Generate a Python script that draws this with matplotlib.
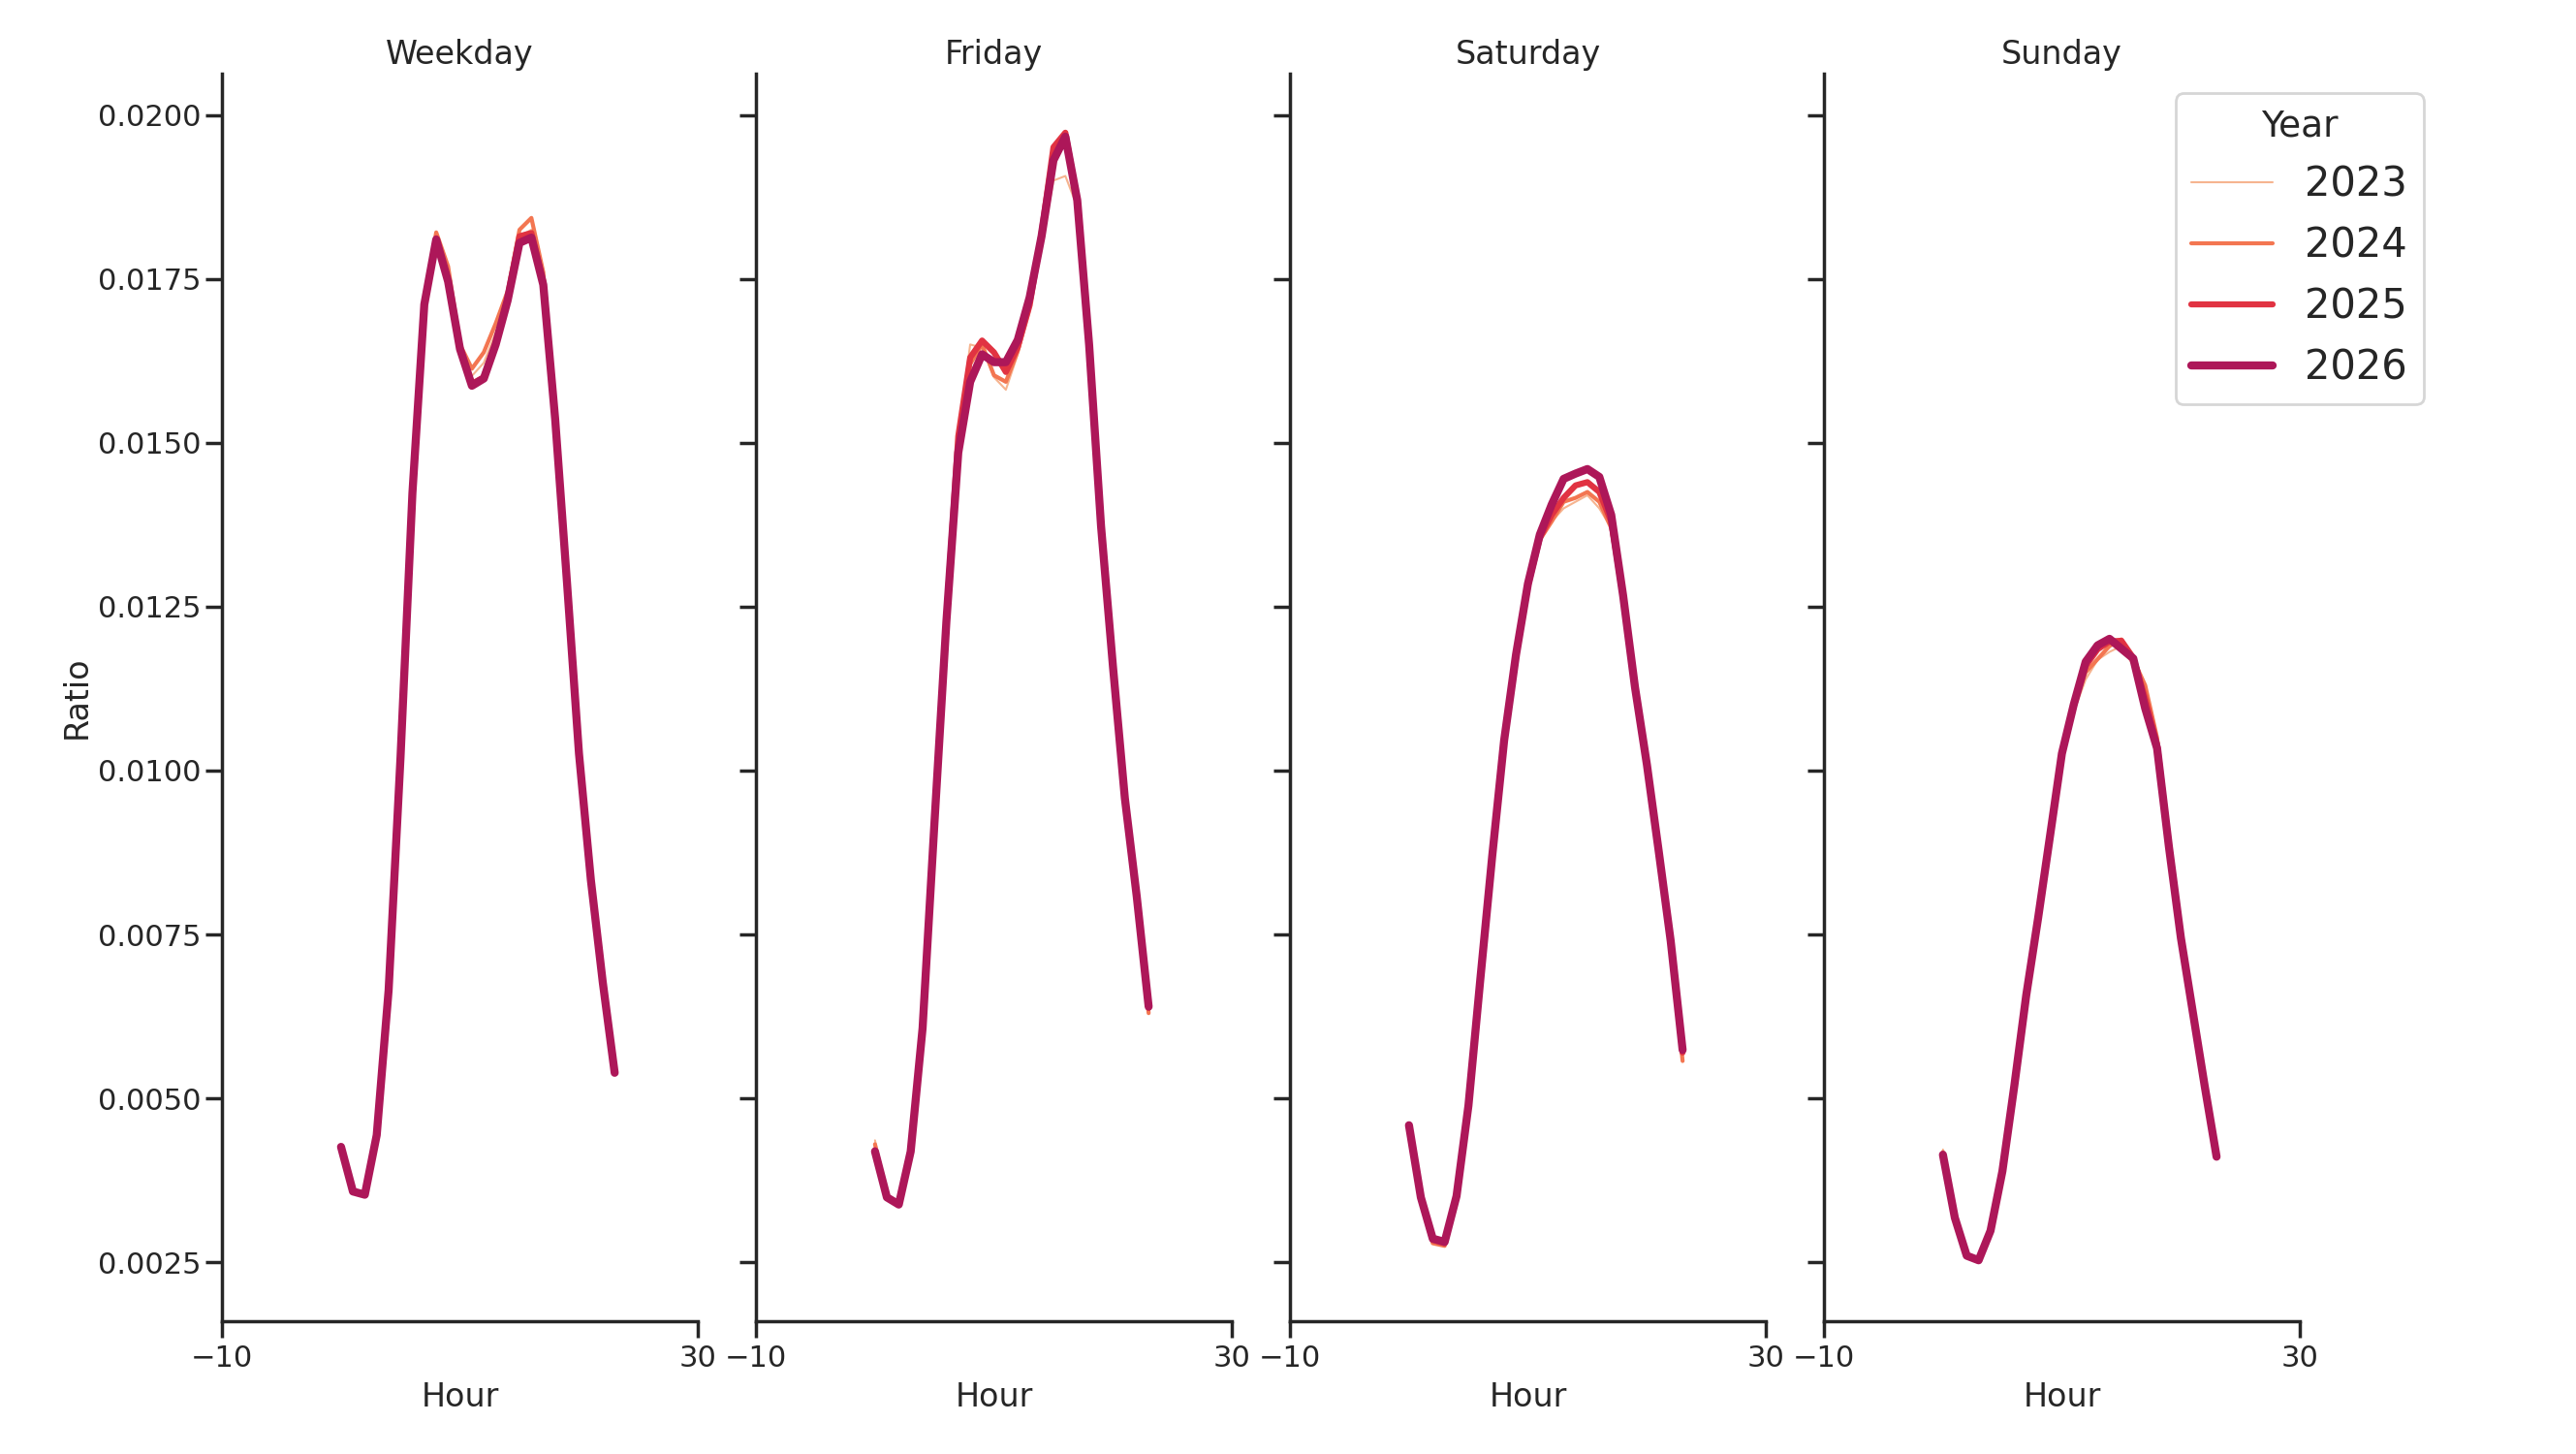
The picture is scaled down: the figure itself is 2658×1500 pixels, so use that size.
import matplotlib
matplotlib.use("Agg")
import matplotlib.pyplot as plt
import seaborn as sns
from matplotlib.ticker import FormatStrFormatter

sns.set_theme(style="ticks", context="poster")
plt.rcParams['font.family'] = ['DejaVu Sans']

# Data: share of the day's trips per hour
hours = list(range(24))
day_types = ['Weekday', 'Friday', 'Saturday', 'Sunday']
years = [2023, 2024, 2025, 2026]
year_colors = ['#f6b48f', '#f37651', '#e13342', '#ad1759']
year_widths = [1.5, 3.0, 4.5, 6.0]

weekday_2023 = [0.00428, 0.00360, 0.00354, 0.00446, 0.00668, 0.01025, 0.01428, 0.01718, 0.01822, 0.01760,
                0.01648, 0.01602, 0.01622, 0.01668, 0.01725, 0.01815, 0.01825, 0.01750, 0.01540, 0.01288,
                0.01028, 0.00835, 0.00678, 0.00540]
weekday_2024 = [0.00427, 0.00359, 0.00354, 0.00445, 0.00667, 0.01023, 0.01426, 0.01716, 0.01821, 0.01769,
                0.01650, 0.01613, 0.01638, 0.01682, 0.01731, 0.01825, 0.01843, 0.01760, 0.01542, 0.01289,
                0.01028, 0.00834, 0.00678, 0.00540]
weekday_2025 = [0.00426, 0.00358, 0.00353, 0.00444, 0.00665, 0.01021, 0.01424, 0.01712, 0.01812, 0.01748,
                0.01645, 0.01590, 0.01600, 0.01652, 0.01720, 0.01815, 0.01820, 0.01745, 0.01538, 0.01286,
                0.01027, 0.00834, 0.00677, 0.00539]
weekday_2026 = [0.00426, 0.00358, 0.00353, 0.00444, 0.00665, 0.01020, 0.01423, 0.01711, 0.01810, 0.01746,
                0.01643, 0.01587, 0.01598, 0.01650, 0.01717, 0.01805, 0.01813, 0.01741, 0.01536, 0.01285,
                0.01026, 0.00833, 0.00677, 0.00539]

friday_2023 = [0.00436, 0.00352, 0.00340, 0.00421, 0.00610, 0.00925, 0.01235, 0.01510, 0.01650, 0.01645,
               0.01600, 0.01581, 0.01635, 0.01700, 0.01800, 0.01900, 0.01907, 0.01860, 0.01645, 0.01370,
               0.01158, 0.00957, 0.00806, 0.00632]
friday_2024 = [0.00430, 0.00351, 0.00339, 0.00420, 0.00609, 0.00923, 0.01232, 0.01505, 0.01620, 0.01650,
               0.01603, 0.01593, 0.01640, 0.01710, 0.01810, 0.01934, 0.01970, 0.01870, 0.01648, 0.01372,
               0.01159, 0.00958, 0.00807, 0.00630]
friday_2025 = [0.00421, 0.00350, 0.00339, 0.00420, 0.00608, 0.00922, 0.01230, 0.01510, 0.01630, 0.01656,
               0.01638, 0.01608, 0.01646, 0.01710, 0.01820, 0.01951, 0.01973, 0.01870, 0.01649, 0.01373,
               0.01159, 0.00958, 0.00808, 0.00638]
friday_2026 = [0.00419, 0.00349, 0.00338, 0.00419, 0.00607, 0.00921, 0.01227, 0.01485, 0.01593, 0.01635,
               0.01623, 0.01623, 0.01657, 0.01722, 0.01815, 0.01931, 0.01967, 0.01870, 0.01649, 0.01373,
               0.01159, 0.00958, 0.00808, 0.00640]

saturday_2023 = [0.00457, 0.00347, 0.00280, 0.00277, 0.00349, 0.00487, 0.00680, 0.00868, 0.01043, 0.01172,
                 0.01278, 0.01350, 0.01380, 0.01400, 0.01410, 0.01420, 0.01400, 0.01370, 0.01262, 0.01124,
                 0.01007, 0.00874, 0.00738, 0.00565]
saturday_2024 = [0.00458, 0.00347, 0.00279, 0.00275, 0.00349, 0.00488, 0.00681, 0.00869, 0.01044, 0.01174,
                 0.01280, 0.01352, 0.01380, 0.01410, 0.01416, 0.01425, 0.01410, 0.01370, 0.01264, 0.01125,
                 0.01008, 0.00875, 0.00739, 0.00557]
saturday_2025 = [0.00459, 0.00348, 0.00284, 0.00279, 0.00350, 0.00488, 0.00681, 0.00869, 0.01045, 0.01175,
                 0.01282, 0.01355, 0.01390, 0.01416, 0.01435, 0.01440, 0.01425, 0.01380, 0.01265, 0.01126,
                 0.01008, 0.00875, 0.00739, 0.00570]
saturday_2026 = [0.00459, 0.00349, 0.00286, 0.00281, 0.00351, 0.00489, 0.00682, 0.00870, 0.01046, 0.01177,
                 0.01285, 0.01360, 0.01406, 0.01445, 0.01453, 0.01460, 0.01448, 0.01390, 0.01267, 0.01127,
                 0.01009, 0.00876, 0.00740, 0.00574]

sunday_2023 = [0.00422, 0.00320, 0.00261, 0.00254, 0.00299, 0.00390, 0.00518, 0.00655, 0.00772, 0.00895,
               0.01018, 0.01090, 0.01139, 0.01169, 0.01181, 0.01190, 0.01160, 0.01120, 0.01045, 0.00890,
               0.00750, 0.00635, 0.00520, 0.00412]
sunday_2024 = [0.00418, 0.00319, 0.00261, 0.00254, 0.00299, 0.00390, 0.00519, 0.00656, 0.00773, 0.00897,
               0.01020, 0.01095, 0.01150, 0.01170, 0.01190, 0.01200, 0.01170, 0.01130, 0.01050, 0.00892,
               0.00750, 0.00636, 0.00521, 0.00412]
sunday_2025 = [0.00415, 0.00318, 0.00260, 0.00253, 0.00298, 0.00389, 0.00519, 0.00657, 0.00774, 0.00899,
               0.01024, 0.01099, 0.01160, 0.01185, 0.01197, 0.01198, 0.01172, 0.01110, 0.01040, 0.00886,
               0.00747, 0.00633, 0.00520, 0.00411]
sunday_2026 = [0.00414, 0.00318, 0.00260, 0.00253, 0.00298, 0.00389, 0.00519, 0.00657, 0.00775, 0.00900,
               0.01026, 0.01101, 0.01166, 0.01191, 0.01201, 0.01186, 0.01171, 0.01095, 0.01034, 0.00883,
               0.00745, 0.00632, 0.00519, 0.00411]

series = {
    'Weekday': [weekday_2023, weekday_2024, weekday_2025, weekday_2026],
    'Friday': [friday_2023, friday_2024, friday_2025, friday_2026],
    'Saturday': [saturday_2023, saturday_2024, saturday_2025, saturday_2026],
    'Sunday': [sunday_2023, sunday_2024, sunday_2025, sunday_2026],
}

y_ticks = [0.0025, 0.0050, 0.0075, 0.0100, 0.0125, 0.0150, 0.0175, 0.0200]

fig, axes = plt.subplots(1, 4, figsize=(26.58, 15.0), dpi=100, sharey=True)
fig.subplots_adjust(left=0.0862, right=0.8928, top=0.9493, bottom=0.0913, wspace=0.122)

xpad = plt.rcParams['xtick.major.pad'] + 1.5
lpad = plt.rcParams['axes.labelpad'] + 2.5

for ax, day in zip(axes, day_types):
    for year, values, color, lw in zip(years, series[day], year_colors, year_widths):
        ax.plot(hours, values, color=color, linewidth=lw, label=str(year))
    ax.set_title(day, pad=plt.rcParams['axes.titlepad'] + 1)
    ax.set_xlabel('Hour', labelpad=lpad)
    ax.set_xlim(-10, 30)
    ax.set_xticks([-10, 30])
    ax.tick_params(axis='x', pad=xpad)
    ax.set_ylim(0.0016, 0.02063)
    ax.set_yticks(y_ticks)
    ax.yaxis.set_major_formatter(FormatStrFormatter('%.4f'))
    sns.despine(ax=ax)

axes[0].set_ylabel('Ratio')

handles, labels = axes[-1].get_legend_handles_labels()
axes[-1].legend(handles, labels, title='Year', loc='upper left',
                bbox_to_anchor=(0.8367, 0.9497), bbox_transform=fig.transFigure,
                fontsize=30, title_fontsize=27)

plt.savefig('out.png', dpi=100)
